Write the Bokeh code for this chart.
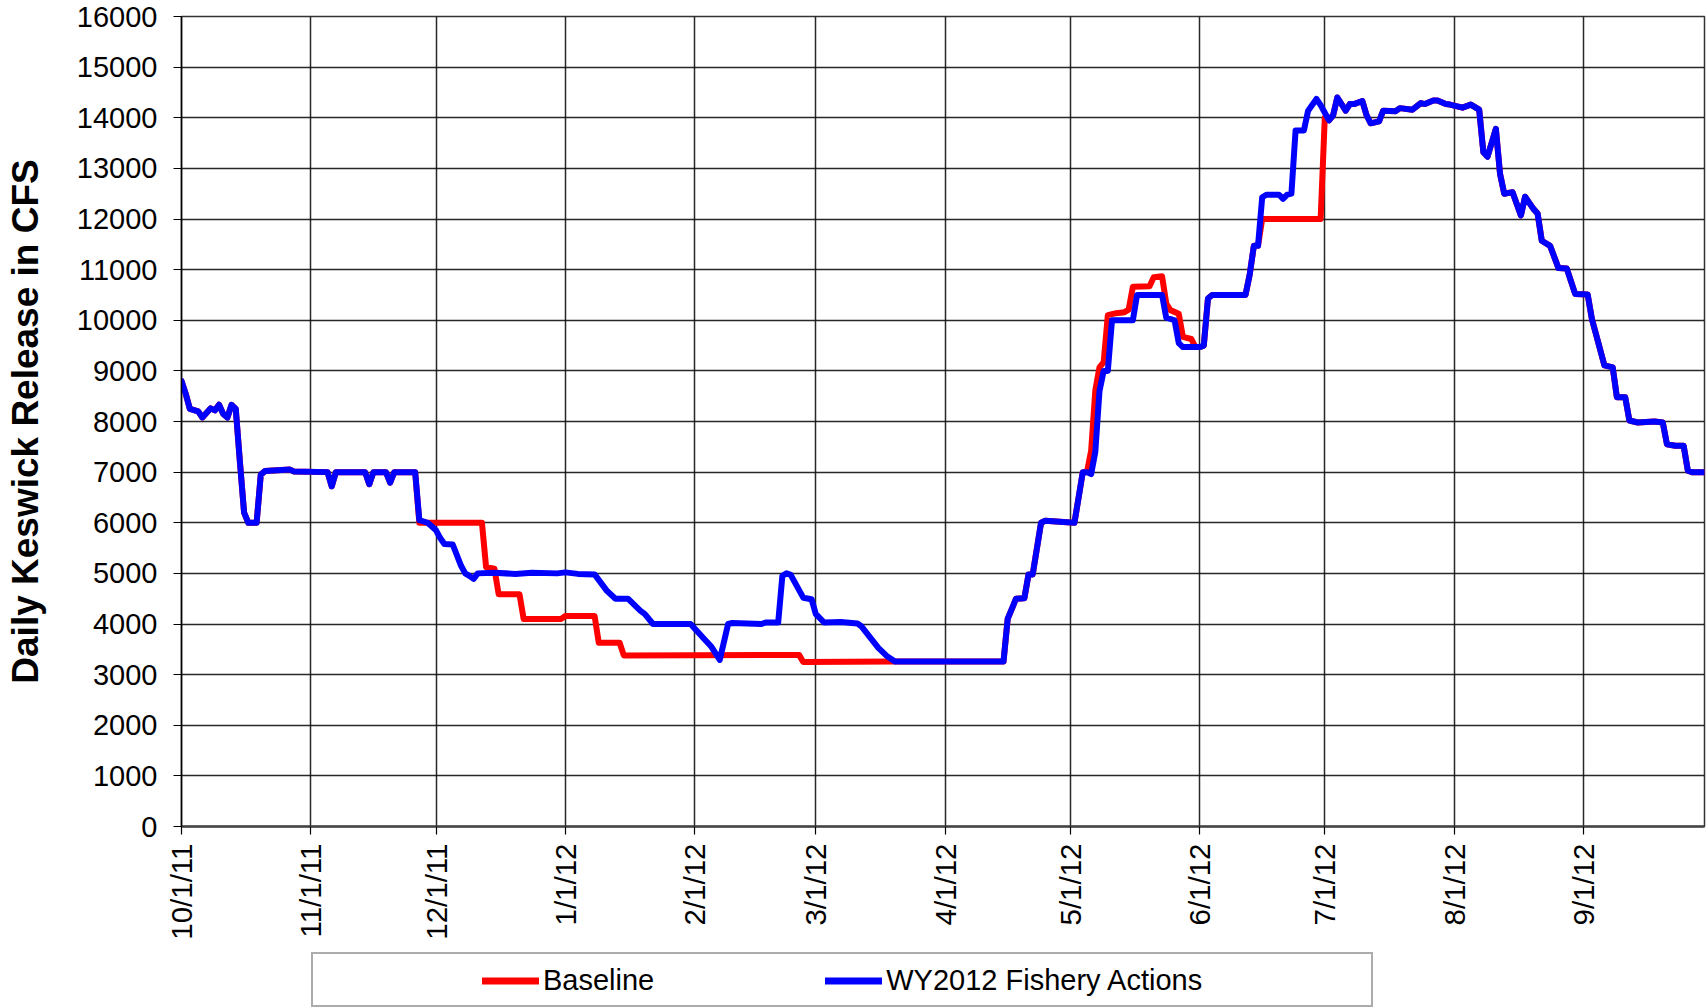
import math
from datetime import datetime

from bokeh.plotting import figure
from bokeh.layouts import column
from bokeh.models import Range1d, FixedTicker, NumeralTickFormatter, Legend, LegendItem
from bokeh.embed import file_html
from bokeh.resources import INLINE

# ---------------- data ----------------
start_date = "2011-10-01"
end_date = "2012-09-30"

tick_labels = ["10/1/11", "11/1/11", "12/1/11", "1/1/12", "2/1/12", "3/1/12",
               "4/1/12", "5/1/12", "6/1/12", "7/1/12", "8/1/12", "9/1/12"]
y_ticks = list(range(0, 16001, 1000))

series_names = ["Baseline", "WY2012 Fishery Actions"]
series_colors = ["#FF0000", "#0000FF"]

baseline_dates = [
    "2011-10-01", "2011-10-02", "2011-10-03", "2011-10-05", "2011-10-06", "2011-10-08",
    "2011-10-09", "2011-10-10", "2011-10-11", "2011-10-12", "2011-10-13", "2011-10-14",
    "2011-10-15", "2011-10-16", "2011-10-17", "2011-10-19", "2011-10-20", "2011-10-21",
    "2011-10-27", "2011-10-28", "2011-11-05", "2011-11-06", "2011-11-07", "2011-11-14",
    "2011-11-15", "2011-11-16", "2011-11-19", "2011-11-20", "2011-11-21", "2011-11-26",
    "2011-11-27", "2011-12-12", "2011-12-13", "2011-12-15", "2011-12-16", "2011-12-21",
    "2011-12-22", "2011-12-31", "2012-01-01", "2012-01-08", "2012-01-09", "2012-01-14",
    "2012-01-15", "2012-02-26", "2012-02-27", "2012-03-20", "2012-04-15", "2012-04-16",
    "2012-04-17", "2012-04-18", "2012-04-20", "2012-04-21", "2012-04-22", "2012-04-24",
    "2012-04-25", "2012-05-02", "2012-05-03", "2012-05-04", "2012-05-05", "2012-05-06",
    "2012-05-07", "2012-05-08", "2012-05-09", "2012-05-10", "2012-05-12", "2012-05-14",
    "2012-05-15", "2012-05-16", "2012-05-20", "2012-05-21", "2012-05-23", "2012-05-24",
    "2012-05-25", "2012-05-27", "2012-05-28", "2012-05-30", "2012-05-31", "2012-06-01",
    "2012-06-02", "2012-06-03", "2012-06-04", "2012-06-12", "2012-06-13", "2012-06-14",
    "2012-06-15", "2012-06-16", "2012-06-30", "2012-07-01", "2012-07-02", "2012-07-03",
    "2012-07-04", "2012-07-06", "2012-07-07", "2012-07-08", "2012-07-10", "2012-07-11",
    "2012-07-12", "2012-07-14", "2012-07-15", "2012-07-18", "2012-07-19", "2012-07-22",
    "2012-07-24", "2012-07-25", "2012-07-27", "2012-07-28", "2012-07-30", "2012-07-31",
    "2012-08-03", "2012-08-05", "2012-08-07", "2012-08-08", "2012-08-09", "2012-08-11",
    "2012-08-12", "2012-08-13", "2012-08-15", "2012-08-17", "2012-08-18", "2012-08-20",
    "2012-08-21", "2012-08-22", "2012-08-24", "2012-08-26", "2012-08-28", "2012-08-30",
    "2012-09-02", "2012-09-03", "2012-09-06", "2012-09-08", "2012-09-09", "2012-09-11",
    "2012-09-12", "2012-09-14", "2012-09-18", "2012-09-20", "2012-09-21", "2012-09-23",
    "2012-09-25", "2012-09-26", "2012-09-27", "2012-09-30",
]
baseline_cfs = [
    8800, 8550, 8250, 8200, 8080, 8260,
    8220, 8330, 8150, 8080, 8330, 8250,
    7200, 6200, 6000, 6000, 6950, 7020,
    7050, 7010, 7000, 6720, 7000, 7000,
    6760, 7000, 7000, 6790, 7000, 7000,
    6000, 6000, 5120, 5090, 4590, 4590,
    4100, 4100, 4160, 4160, 3630, 3630,
    3380, 3390, 3250, 3260, 3260, 4100,
    4300, 4500, 4510, 4980, 4980, 6000,
    6040, 6000, 6500, 7000, 7000, 7420,
    8610, 9070, 9170, 10100, 10140, 10160,
    10210, 10660, 10670, 10850, 10870, 10330,
    10200, 10130, 9670, 9630, 9470, 9470,
    9500, 10430, 10500, 10500, 10900, 11470,
    11470, 12000, 12000, 14000, 13950, 14050,
    14400, 14140, 14270, 14270, 14330, 14050,
    13890, 13930, 14140, 14130, 14190, 14160,
    14290, 14270, 14340, 14340, 14270, 14260,
    14200, 14260, 14160, 13320, 13230, 13780,
    12890, 12500, 12530, 12070, 12440, 12200,
    12110, 11570, 11470, 11030, 11020, 10520,
    10510, 10030, 9110, 9070, 8480, 8480,
    8020, 7980, 8000, 7980, 7550, 7520,
    7520, 7030, 7000, 7000,
]

actions_dates = [
    "2011-10-01", "2011-10-02", "2011-10-03", "2011-10-05", "2011-10-06", "2011-10-08",
    "2011-10-09", "2011-10-10", "2011-10-11", "2011-10-12", "2011-10-13", "2011-10-14",
    "2011-10-15", "2011-10-16", "2011-10-17", "2011-10-19", "2011-10-20", "2011-10-21",
    "2011-10-27", "2011-10-28", "2011-11-05", "2011-11-06", "2011-11-07", "2011-11-14",
    "2011-11-15", "2011-11-16", "2011-11-19", "2011-11-20", "2011-11-21", "2011-11-26",
    "2011-11-27", "2011-11-29", "2011-12-01", "2011-12-02", "2011-12-03", "2011-12-05",
    "2011-12-07", "2011-12-08", "2011-12-09", "2011-12-10", "2011-12-11", "2011-12-15",
    "2011-12-20", "2011-12-24", "2011-12-30", "2012-01-01", "2012-01-04", "2012-01-08",
    "2012-01-11", "2012-01-13", "2012-01-16", "2012-01-19", "2012-01-20", "2012-01-22",
    "2012-01-31", "2012-02-03", "2012-02-05", "2012-02-07", "2012-02-09", "2012-02-10",
    "2012-02-17", "2012-02-18", "2012-02-21", "2012-02-22", "2012-02-23", "2012-02-24",
    "2012-02-27", "2012-02-29", "2012-03-01", "2012-03-03", "2012-03-07", "2012-03-11",
    "2012-03-12", "2012-03-16", "2012-03-18", "2012-03-20", "2012-04-15", "2012-04-16",
    "2012-04-17", "2012-04-18", "2012-04-20", "2012-04-21", "2012-04-22", "2012-04-24",
    "2012-04-25", "2012-05-02", "2012-05-03", "2012-05-04", "2012-05-05", "2012-05-06",
    "2012-05-07", "2012-05-08", "2012-05-09", "2012-05-10", "2012-05-11", "2012-05-16",
    "2012-05-17", "2012-05-23", "2012-05-24", "2012-05-26", "2012-05-27", "2012-05-28",
    "2012-06-01", "2012-06-02", "2012-06-03", "2012-06-04", "2012-06-12", "2012-06-13",
    "2012-06-14", "2012-06-15", "2012-06-16", "2012-06-17", "2012-06-20", "2012-06-21",
    "2012-06-22", "2012-06-23", "2012-06-24", "2012-06-26", "2012-06-27", "2012-06-29",
    "2012-06-30", "2012-07-02", "2012-07-03", "2012-07-04", "2012-07-06", "2012-07-07",
    "2012-07-08", "2012-07-10", "2012-07-11", "2012-07-12", "2012-07-14", "2012-07-15",
    "2012-07-18", "2012-07-19", "2012-07-22", "2012-07-24", "2012-07-25", "2012-07-27",
    "2012-07-28", "2012-07-30", "2012-07-31", "2012-08-03", "2012-08-05", "2012-08-07",
    "2012-08-08", "2012-08-09", "2012-08-11", "2012-08-12", "2012-08-13", "2012-08-15",
    "2012-08-17", "2012-08-18", "2012-08-20", "2012-08-21", "2012-08-22", "2012-08-24",
    "2012-08-26", "2012-08-28", "2012-08-30", "2012-09-02", "2012-09-03", "2012-09-06",
    "2012-09-08", "2012-09-09", "2012-09-11", "2012-09-12", "2012-09-14", "2012-09-18",
    "2012-09-20", "2012-09-21", "2012-09-23", "2012-09-25", "2012-09-26", "2012-09-27",
    "2012-09-30",
]
actions_cfs = [
    8800, 8550, 8250, 8200, 8080, 8260,
    8220, 8330, 8150, 8080, 8330, 8250,
    7200, 6200, 6000, 6000, 6950, 7020,
    7050, 7010, 7000, 6720, 7000, 7000,
    6760, 7000, 7000, 6790, 7000, 7000,
    6050, 6000, 5850, 5700, 5580, 5570,
    5150, 5000, 4950, 4890, 5000, 5010,
    4990, 5010, 5000, 5020, 4990, 4980,
    4650, 4500, 4500, 4260, 4200, 4000,
    4000, 3730, 3550, 3290, 4000, 4020,
    4000, 4030, 4030, 4950, 5000, 4970,
    4520, 4490, 4200, 4030, 4040, 4010,
    3950, 3530, 3370, 3260, 3260, 4100,
    4300, 4500, 4510, 4980, 4980, 6000,
    6040, 6000, 6500, 7000, 7000, 6960,
    7400, 8600, 9000, 9000, 10000, 10000,
    10500, 10500, 10050, 10000, 9550, 9470,
    9470, 9500, 10430, 10500, 10500, 10900,
    11470, 11470, 12430, 12480, 12480, 12400,
    12480, 12500, 13750, 13750, 14140, 14370,
    14250, 13950, 14050, 14400, 14140, 14270,
    14270, 14330, 14050, 13890, 13930, 14140,
    14130, 14190, 14160, 14290, 14270, 14340,
    14340, 14270, 14260, 14200, 14260, 14160,
    13320, 13230, 13780, 12890, 12500, 12530,
    12070, 12440, 12200, 12110, 11570, 11470,
    11030, 11020, 10520, 10510, 10030, 9110,
    9070, 8480, 8480, 8020, 7980, 8000,
    7980, 7550, 7520, 7520, 7030, 7000,
    7000,
]

# ---------------- helpers ----------------
t0 = datetime.strptime(start_date, "%Y-%m-%d")


def iso_day(s):
    return (datetime.strptime(s, "%Y-%m-%d") - t0).days


def label_day(s):
    return (datetime.strptime(s, "%m/%d/%y") - t0).days


base_x = [iso_day(d) for d in baseline_dates]
act_x = [iso_day(d) for d in actions_dates]
tick_days = [label_day(t) for t in tick_labels]
x_end = iso_day(end_date)

FONT = "Liberation Sans"
LINE_W = 6
LEFT = 181

# ---------------- main chart ----------------
p = figure(width=1706, height=945, output_backend="svg", toolbar_location=None,
           x_range=Range1d(0, x_end), y_range=Range1d(0, 16000),
           min_border_left=LEFT, min_border_right=2, min_border_top=16, min_border_bottom=119)
p.background_fill_color = "white"
p.border_fill_color = "white"
p.outline_line_color = "#333333"
p.outline_line_width = 1.5

p.grid.grid_line_color = "#111111"
p.grid.grid_line_width = 1.5
p.grid.grid_line_alpha = 0.9

p.xaxis.ticker = FixedTicker(ticks=tick_days)
p.xaxis.major_label_overrides = {d: lab for d, lab in zip(tick_days, tick_labels)}
p.xaxis.major_label_orientation = math.pi / 2
p.yaxis.ticker = FixedTicker(ticks=y_ticks)
p.yaxis.formatter = NumeralTickFormatter(format="0")

p.axis.minor_tick_line_color = None
p.axis.major_tick_in = 0
p.axis.major_tick_out = 8
p.axis.major_tick_line_color = "black"
p.axis.major_tick_line_width = 1.2
p.axis.major_label_text_font = FONT
p.axis.major_label_text_color = "black"
p.yaxis.major_label_text_font_size = "29px"
p.xaxis.major_label_text_font_size = "29.5px"
p.yaxis.major_label_standoff = 16
p.xaxis.major_label_standoff = 9
p.yaxis.axis_line_color = "black"
p.yaxis.axis_line_width = 1.5
p.xaxis.axis_line_color = "#444444"
p.xaxis.axis_line_width = 2.5

p.yaxis.axis_label = "Daily Keswick Release in CFS"
p.yaxis.axis_label_text_font = FONT
p.yaxis.axis_label_text_font_style = "bold"
p.yaxis.axis_label_text_font_size = "37px"
p.yaxis.axis_label_text_color = "black"
p.yaxis.axis_label_standoff = 28

p.line(base_x, baseline_cfs, line_color=series_colors[0], line_width=LINE_W,
       line_join="round", line_cap="round")
p.line(act_x, actions_cfs, line_color=series_colors[1], line_width=LINE_W,
       line_join="round", line_cap="round")

# ---------------- legend strip (frame is aligned with the chart frame) ----------------
pl = figure(width=1706, height=63, output_backend="svg", toolbar_location=None,
            x_range=Range1d(0, x_end), y_range=Range1d(0, 1),
            x_axis_location=None, y_axis_location=None,
            min_border_left=LEFT, min_border_right=2, min_border_top=0, min_border_bottom=0)
pl.grid.visible = False
pl.outline_line_color = None
pl.background_fill_color = "white"
pl.border_fill_color = "white"

# same series, drawn outside this strip's value range; they only feed the legend keys
k_base = pl.line(base_x, baseline_cfs, line_color=series_colors[0], line_width=7, line_cap="round")
k_act = pl.line(act_x, actions_cfs, line_color=series_colors[1], line_width=7, line_cap="round")
box_r = pl.line(base_x, baseline_cfs, line_alpha=0)

leg_box = Legend(items=[LegendItem(label=" ", renderers=[box_r])],
                 location=(311 - LEFT, 1), orientation="horizontal",
                 padding=9, margin=0, glyph_width=20, glyph_height=33,
                 label_width=1020, label_height=33, label_standoff=0,
                 border_line_color="#5a5a5a", border_line_width=2,
                 background_fill_color="white", background_fill_alpha=1,
                 label_text_font=FONT, label_text_font_size="29px")
leg_items = Legend(items=[LegendItem(label=series_names[0], renderers=[k_base]),
                          LegendItem(label=series_names[1], renderers=[k_act])],
                   location=(482 - LEFT, 11), orientation="horizontal",
                   padding=0, margin=0, spacing=171, glyph_width=57, glyph_height=33,
                   label_height=33, label_standoff=4,
                   border_line_alpha=0, background_fill_alpha=0,
                   label_text_font=FONT, label_text_font_size="29px",
                   label_text_color="black")
pl.add_layout(leg_box)
pl.add_layout(leg_items)

layout = column(p, pl, spacing=0)
open("out.html", "w").write(file_html(layout, INLINE))
